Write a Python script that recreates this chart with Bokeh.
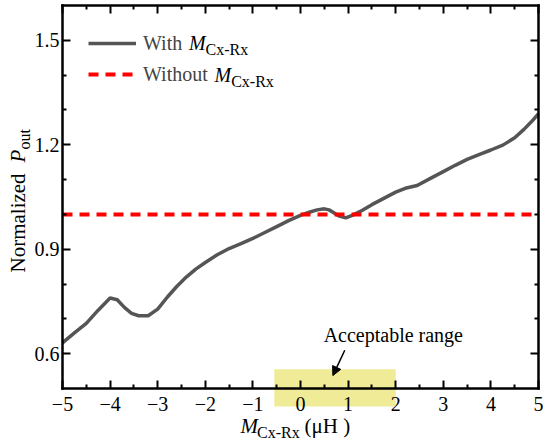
import math

from bokeh.embed import file_html
from bokeh.models import (Arrow, BoxAnnotation, CustomJSTickFormatter, FixedTicker,
                          Label, Legend, LegendItem, LinearAxis, NormalHead)
from bokeh.plotting import figure
from bokeh.resources import INLINE

# Normalized output power versus cross coupling M_Cx-Rx (uH)
m_with = [-5.0, -4.75, -4.5, -4.25, -4.0, -3.85, -3.7, -3.55, -3.4, -3.2, -3.0,
          -2.8, -2.6, -2.4, -2.2, -2.0, -1.75, -1.5, -1.25, -1.0, -0.75, -0.5,
          -0.25, 0.0, 0.2, 0.35, 0.5, 0.6, 0.7, 0.8, 0.95, 1.1, 1.3, 1.5, 1.75,
          2.0, 2.2, 2.45, 2.75, 3.0, 3.25, 3.5, 3.75, 4.0, 4.25, 4.5, 4.7, 4.85, 5.0]
p_with = [0.631, 0.660, 0.687, 0.725, 0.760, 0.755, 0.733, 0.716, 0.709, 0.709, 0.728,
          0.762, 0.793, 0.820, 0.843, 0.862, 0.884, 0.902, 0.916, 0.931, 0.948, 0.965,
          0.982, 0.997, 1.007, 1.013, 1.016, 1.013, 1.005, 0.996, 0.990, 0.998, 1.012,
          1.028, 1.046, 1.064, 1.075, 1.083, 1.105, 1.123, 1.141, 1.158, 1.172, 1.185,
          1.199, 1.220, 1.245, 1.266, 1.289]

m_without = [-5.0, 5.0]
p_without = [1.0, 1.0]

x_lim = (-5.0, 5.0)
y_lim = (0.5, 1.6)
x_major = [-5, -4, -3, -2, -1, 0, 1, 2, 3, 4, 5]
x_minor = [-4.5, -3.5, -2.5, -1.5, -0.5, 0.5, 1.5, 2.5, 3.5, 4.5]
y_major = [0.6, 0.9, 1.2, 1.5]
y_minor = [0.7, 0.8, 1.0, 1.1, 1.3, 1.4]

# acceptable coupling window
range_lo, range_hi = -0.55, 2.0

SERIF = "Liberation Serif"
GRAY = "#555555"
RED = "#ff0000"

W, H = 543, 445
# pixel box of the axes inside the canvas
BOX_L, BOX_R, BOX_T, BOX_B = 62, 538, 5, 388

# the drawing area spans the whole canvas; the axes are pinned to the box edges
kx = (x_lim[1] - x_lim[0]) / (BOX_R - BOX_L)
ky = (y_lim[1] - y_lim[0]) / (BOX_B - BOX_T)
x_range = (x_lim[0] - BOX_L * kx, x_lim[1] + (W - BOX_R) * kx)
y_range = (y_lim[0] - (H - BOX_B) * ky, y_lim[1] + BOX_T * ky)

p = figure(width=W, height=H, x_range=x_range, y_range=y_range,
           output_backend="svg", toolbar_location=None,
           min_border_left=0, min_border_right=0, min_border_top=0, min_border_bottom=0)
p.background_fill_color = "white"
p.border_fill_color = "white"
p.outline_line_color = None
p.xgrid.visible = False
p.ygrid.visible = False

p.add_layout(BoxAnnotation(left=range_lo, right=range_hi, bottom=0.448, top=0.555,
                           fill_color="#f0eb96", fill_alpha=1.0, line_color=None,
                           level="underlay"))

r_with = p.line(m_with, p_with, line_color=GRAY, line_width=3.5)
r_without = p.line(m_without, p_without, line_color=RED, line_width=4, line_dash="10 7")


def style_axis(ax, ticker, labelled, where, bounds):
    ax.ticker = ticker
    ax.fixed_location = where
    ax.bounds = bounds
    ax.axis_line_width = 2.5
    ax.axis_line_color = "black"
    ax.axis_line_cap = "square"
    ax.major_tick_line_width = 2
    ax.minor_tick_line_width = 2
    ax.major_tick_in = 8
    ax.major_tick_out = 0
    ax.minor_tick_in = 4
    ax.minor_tick_out = 0
    ax.axis_label = None
    if labelled:
        ax.major_label_text_font = SERIF
        ax.major_label_text_font_size = "20px"
        ax.major_label_text_color = "black"
    else:
        ax.formatter = CustomJSTickFormatter(code="return '';")
        ax.major_label_text_font_size = "0px"
        ax.major_label_standoff = 0


xb = p.xaxis[0]
style_axis(xb, FixedTicker(ticks=x_major, minor_ticks=x_minor), True, y_lim[0], x_lim)
xb.formatter = CustomJSTickFormatter(code="return tick < 0 ? '\\u2212' + (-tick) : String(tick);")
xb.major_label_standoff = 8

yl = p.yaxis[0]
style_axis(yl, FixedTicker(ticks=y_major, minor_ticks=y_minor), True, x_lim[0], y_lim)
yl.major_label_standoff = 3

xt = LinearAxis()
style_axis(xt, FixedTicker(ticks=x_major, minor_ticks=x_minor), False, y_lim[1], x_lim)
p.add_layout(xt, "above")
yr = LinearAxis()
style_axis(yr, FixedTicker(ticks=y_major, minor_ticks=y_minor), False, x_lim[1], y_lim)
p.add_layout(yr, "right")

legend = Legend(items=[LegendItem(label="With", renderers=[r_with]),
                       LegendItem(label="Without", renderers=[r_without])],
                location=(88, H - 86), orientation="vertical", padding=0, margin=0,
                spacing=7, glyph_width=48, glyph_height=24, label_height=24,
                label_standoff=7, label_text_font=SERIF, label_text_font_size="20px",
                border_line_color=None, background_fill_alpha=0)
p.add_layout(legend)


def text(cx, cy, s, size, italic=False, rotated=False):
    # cx, cy: canvas pixels (top-left origin) of the text's start on its baseline
    drop = 0.38 * size
    if rotated:
        cx -= drop
    else:
        cy -= drop
    p.add_layout(Label(x=cx, y=H - cy, x_units="screen", y_units="screen", text=s,
                       text_font=SERIF, text_font_size=f"{size}px",
                       text_font_style="italic" if italic else "normal",
                       text_align="left", text_baseline="alphabetic",
                       text_color="black", angle=math.pi / 2 if rotated else 0.0))


# legend labels: M with subscript
text(188.5, 50, "M", 20, italic=True)
text(205, 55, "Cx-Rx", 16)
text(214, 82, "M", 20, italic=True)
text(230.7, 87, "Cx-Rx", 16)

# x axis title
text(240, 433, "M", 21, italic=True)
text(256.5, 438, "Cx-Rx", 16)
text(304, 433, "(\u03bcH )", 21)

# y axis title (rotated)
text(25, 272, "Normalized", 21, rotated=True)
text(25, 162, "P", 21, italic=True, rotated=True)
text(30, 149, "out", 16, rotated=True)

# annotation for the acceptable range
p.add_layout(Arrow(x_start=0.93, y_start=0.61, x_end=0.68, y_end=0.537,
                   line_color="black", line_width=1.5,
                   end=NormalHead(size=9, fill_color="black", line_color="black")))
p.add_layout(Label(x=1.95, y=0.632, y_offset=8, text="Acceptable range", text_font=SERIF,
                   text_font_size="20px", text_align="center", text_baseline="alphabetic",
                   text_color="black"))

open("out.html", "w").write(file_html(p, INLINE))
